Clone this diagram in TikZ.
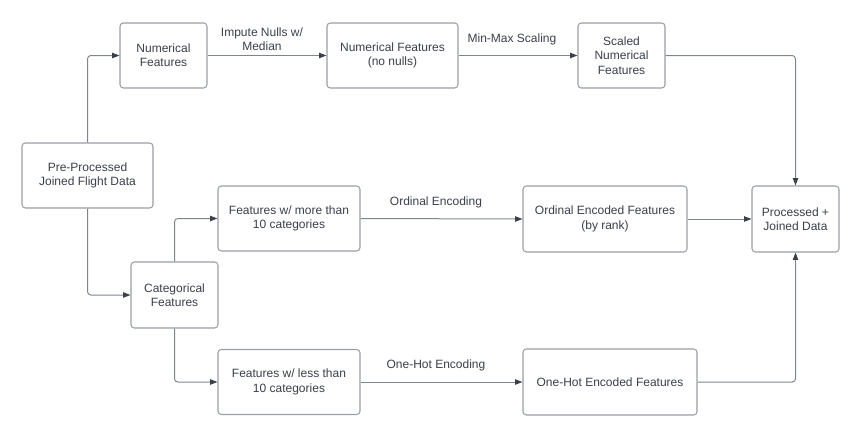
\documentclass[tikz,border=0pt]{standalone}
\usepackage{fontspec}
\setmainfont{Liberation Sans}
\usetikzlibrary{arrows.meta}
\definecolor{txt}{HTML}{3A3F4A}
\definecolor{boxc}{HTML}{9A9EA6}
\definecolor{linec}{HTML}{7F8590}
\definecolor{tipc}{HTML}{3A414A}
\begin{document}
\begin{tikzpicture}[x=0.75pt,y=-0.75pt,
  box/.style={draw=boxc,line width=0.8pt,rounded corners=2.5pt,fill=white,text=txt,
    font=\fontsize{9}{10.8}\selectfont,align=center,inner sep=0pt},
  conn/.style={draw=linec,line width=0.75pt,rounded corners=2.5pt,
    -{Triangle[length=5.5pt,width=4pt,color=tipc]}},
  lbl/.style={text=txt,font=\fontsize{9}{10.8}\selectfont,align=center,inner sep=0pt}]
\useasboundingbox (0,0) rectangle (861,437);
\node[box,minimum width=65.25pt,minimum height=48.75pt] (num) at (163.5,55.5) {Numerical\\Features};
\node[box,minimum width=98.25pt,minimum height=48.75pt] (nonull) at (392.5,55.5) {Numerical Features\\(no nulls)};
\node[box,minimum width=65.25pt,minimum height=48.75pt] (scaled) at (621.5,55.5) {Scaled\\Numerical\\Features};
\node[box,minimum width=98.25pt,minimum height=48.75pt] (pre) at (87.5,175.5) {Pre-Processed\\Joined Flight Data};
\node[box,minimum width=65.25pt,minimum height=49.5pt] (cat) at (174.5,295) {Categorical\\Features};
\node[box,minimum width=106.5pt,minimum height=48.75pt] (more) at (289,218.5) {Features w/ more than\\10 categories};
\node[box,minimum width=106.5pt,minimum height=48.75pt] (less) at (289,382) {Features w/ less than\\10 categories};
\node[box,minimum width=123pt,minimum height=49.5pt] (ord) at (605,219) {Ordinal Encoded Features\\(by rank)};
\node[box,minimum width=130.5pt,minimum height=49.5pt] (oh) at (610,382) {One-Hot Encoded Features};
\node[box,minimum width=65.25pt,minimum height=49.5pt] (proc) at (795.5,219) {Processed +\\Joined Data};

\coordinate (c1) at (pre.north |- num.west);
\coordinate (c2) at (pre.south |- cat.west);
\coordinate (c3) at (cat.north |- more.west);
\coordinate (c4) at (cat.south |- less.west);
\coordinate (c5) at (proc.north |- scaled.east);
\coordinate (c6) at (proc.south |- oh.east);

\draw[conn] (pre.north) -- (c1) -- (num.west);
\draw[conn] (pre.south) -- (c2) -- (cat.west);
\draw[conn] (cat.north) -- (c3) -- (more.west);
\draw[conn] (cat.south) -- (c4) -- (less.west);
\draw[conn] (num.east) -- (nonull.west);
\draw[conn] (nonull.east) -- (scaled.west);
\draw[conn] (more.east) -- (ord.west);
\draw[conn] (less.east) -- (oh.west);
\draw[conn] (ord.east) -- (proc.west);
\draw[conn] (scaled.east) -- (c5) -- (proc.north);
\draw[conn] (oh.east) -- (c6) -- (proc.south);

\node[lbl] (l1) at (262,39.5) {Impute Nulls w/\\Median};
\node[lbl] (l2) at (512,39) {Min-Max Scaling};
\node[lbl] (l3) at (436,202) {Ordinal Encoding};
\node[lbl] (l4) at (436,365) {One-Hot Encoding};
\end{tikzpicture}
\end{document}
